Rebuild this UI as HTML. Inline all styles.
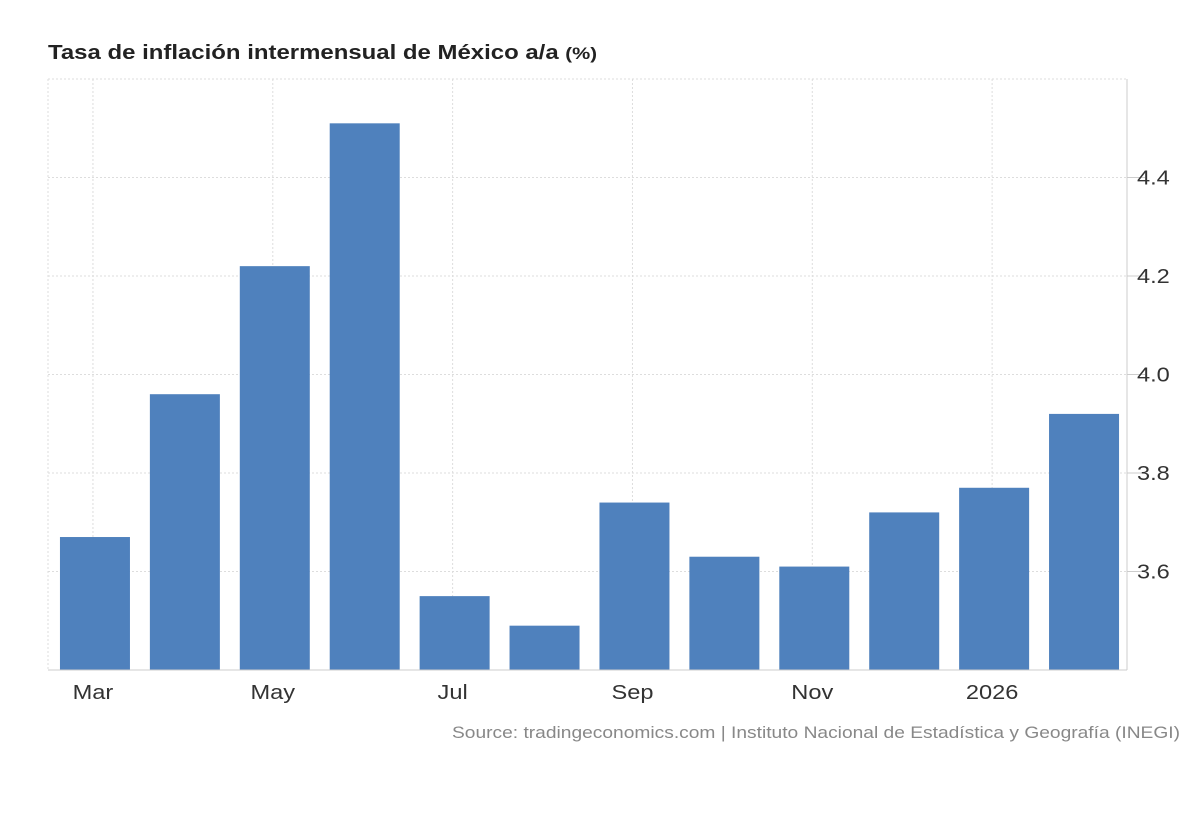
<!DOCTYPE html>
<html><head><meta charset="utf-8"><style>
body{margin:0;background:#fff;width:1200px;height:820px;overflow:hidden;font-family:"Liberation Sans",Arial,sans-serif}
</style></head><body>
<svg id="chart" width="1200" height="820" xmlns="http://www.w3.org/2000/svg">
<text x="48" y="59" font-size="20" font-weight="bold" fill="#222" textLength="549" lengthAdjust="spacingAndGlyphs">Tasa de inflación intermensual de México a/a <tspan font-size="17">(%)</tspan></text>
<text x="1180" y="738" font-size="17" fill="#888" text-anchor="end" textLength="728" lengthAdjust="spacingAndGlyphs">Source: tradingeconomics.com | Instituto Nacional de Estadística y Geografía (INEGI)</text>
<g id="grid"></g><g id="bars"></g><g id="axes"></g>
</svg>
<script>
const categories=["Mar","Apr","May","Jun","Jul","Aug","Sep","Oct","Nov","Dec","2026","Feb"];
const values=[3.67,3.96,4.22,4.51,3.55,3.49,3.74,3.63,3.61,3.72,3.77,3.92];
const xLabels=["Mar","","May","","Jul","","Sep","","Nov","","2026",""];
const yTicks=[3.6,3.8,4.0,4.2,4.4];
const NS="http://www.w3.org/2000/svg";
const L=48,R=1127,T=79,B=670,yMin=3.4,yMax=4.6;
const y=v=>B-(v-yMin)/(yMax-yMin)*(B-T);
const slot=(R-L)/categories.length;
const xc=i=>L+slot*(i+0.5)+2;
function mk(tag,attrs,parent){const e=document.createElementNS(NS,tag);for(const k in attrs)e.setAttribute(k,attrs[k]);document.getElementById(parent).appendChild(e);return e;}
function stretch(t){const w=t.getComputedTextLength();t.setAttribute('textLength',(w*1.18).toFixed(1));t.setAttribute('lengthAdjust','spacingAndGlyphs');}
const g='grid';
let e=mk('line',{x1:L,x2:R,y1:T,y2:T,stroke:'#ddd','stroke-dasharray':'2,2'},g);


yTicks.forEach(t=>{
 let l=mk('line',{x1:L,x2:R,y1:y(t),y2:y(t),stroke:'#ddd','stroke-dasharray':'2,2'},g);
 
 
 let tk=mk('line',{x1:R,x2:R+18,y1:y(t),y2:y(t),stroke:'#ccc'},'axes');
 
 
 let tx=mk('text',{x:R+10,y:y(t)+7,'font-size':20,fill:'#333'},'axes');tx.textContent=t.toFixed(1);
 
 
 stretch(tx);
});
let lv=mk('line',{x1:L,x2:L,y1:T,y2:B,stroke:'#ddd','stroke-dasharray':'2,2'},g);


categories.forEach((c,i)=>{
 if(xLabels[i]){
  let l=mk('line',{x1:xc(i)-2,x2:xc(i)-2,y1:T,y2:B,stroke:'#ddd','stroke-dasharray':'2,2'},g);
  
  
  let tx=mk('text',{x:xc(i)-2,y:699,'font-size':20,fill:'#333','text-anchor':'middle'},'axes');tx.textContent=xLabels[i];
  
  
  stretch(tx);
 }
 let r=mk('rect',{x:xc(i)-35,y:y(values[i]),width:70,height:B-y(values[i]),fill:'#4f81bd'},'bars');
 
 
});
let ax=mk('line',{x1:L,x2:R,y1:B,y2:B,stroke:'#ccc'},'axes');


let ay=mk('line',{x1:R,x2:R,y1:T,y2:B,stroke:'#ccc'},'axes');


</script>
</body></html>
